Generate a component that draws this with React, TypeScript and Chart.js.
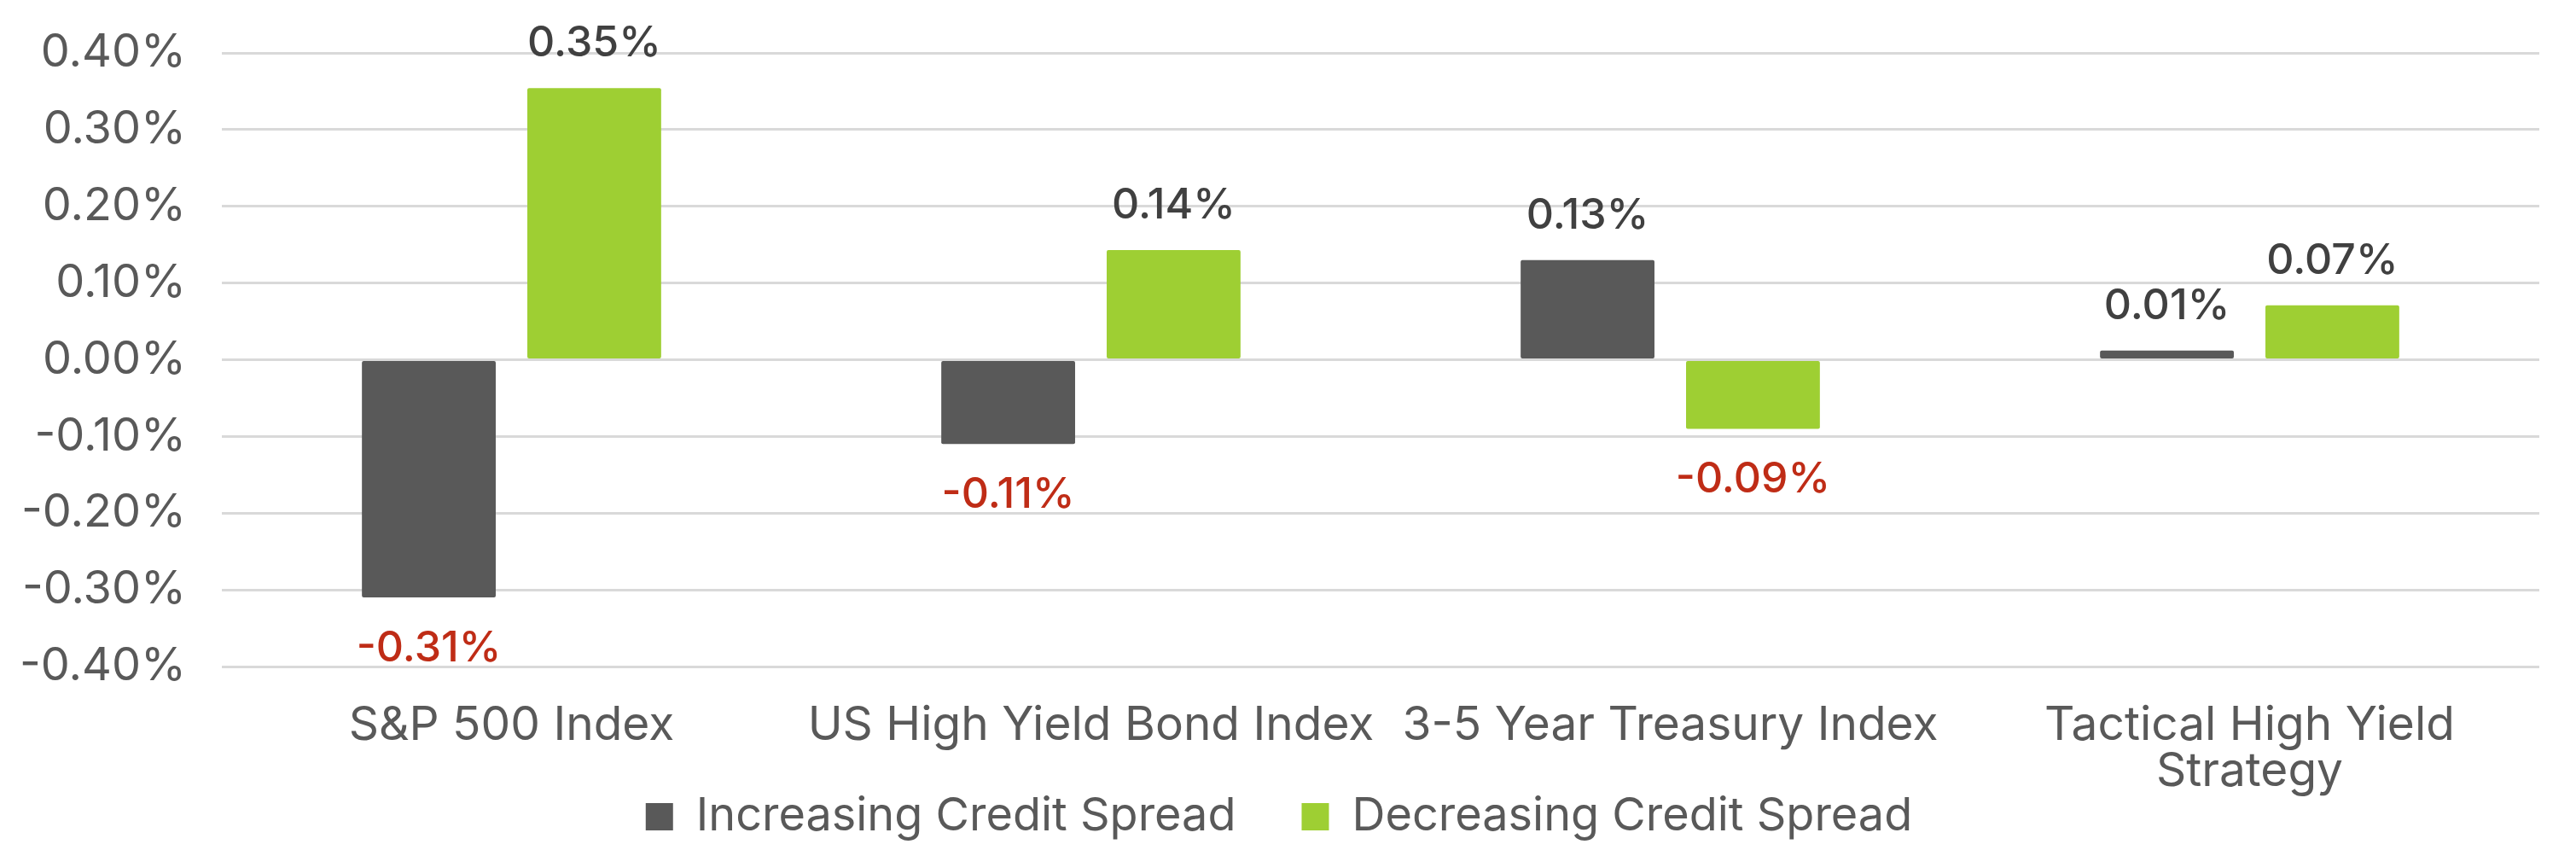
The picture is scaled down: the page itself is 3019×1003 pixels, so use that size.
import React, { useEffect, useRef } from "react";
import { Chart, registerables } from "chart.js";

Chart.register(...registerables);

const categories: (string | string[])[] = [
  "S&P 500 Index",
  "US High Yield Bond Index",
  "3-5 Year Treasury Index",
  ["Tactical High Yield", "Strategy"],
];
const seriesNames = ["Increasing Credit Spread", "Decreasing Credit Spread"];
const increasingSpread = [-0.31, -0.11, 0.13, 0.012];
const decreasingSpread = [0.354, 0.143, -0.09, 0.071];
const yTicks = [-0.4, -0.3, -0.2, -0.1, 0, 0.1, 0.2, 0.3, 0.4];

const W = 3019;
const H = 1003;
const FONT = "Inter, 'Open Sans', sans-serif";

const dataLabelPlugin = {
  id: "dataLabels",
  afterDatasetsDraw(chart: any) {
    const ctx = chart.ctx;
    ctx.save();
    ctx.font = `500 50px ${FONT}`;
    ctx.textAlign = "center";
    ctx.textBaseline = "alphabetic";
    chart.data.datasets.forEach((ds: any, di: number) => {
      const meta = chart.getDatasetMeta(di);
      meta.data.forEach((bar: any, i: number) => {
        const v = ds.data[i] as number;
        const txt = v.toFixed(2) + "%";
        if (v >= 0) {
          ctx.fillStyle = "#404040";
          ctx.fillText(txt, bar.x, bar.y - 37);
        } else {
          ctx.fillStyle = "#bf2c16";
          ctx.fillText(txt, bar.x, bar.y + 75);
        }
      });
    });
    ctx.restore();
  },
};

const noClip = (s: any) => {
  s._computeLabelArea = () => undefined;
};

export default function App() {
  const ref = useRef<HTMLCanvasElement | null>(null);
  useEffect(() => {
    if (!ref.current) return;
    const chart = new Chart(ref.current, {
      type: "bar",
      data: {
        labels: categories,
        datasets: [
          {
            label: seriesNames[0],
            data: increasingSpread,
            backgroundColor: "#595959",
            borderRadius: 2,
            borderSkipped: false,
            categoryPercentage: 0.571,
            barPercentage: 0.809,
          },
          {
            label: seriesNames[1],
            data: decreasingSpread,
            backgroundColor: "#9ecf33",
            borderRadius: 2,
            borderSkipped: false,
            categoryPercentage: 0.571,
            barPercentage: 0.809,
          },
        ],
      },
      options: {
        responsive: false,
        animation: false,
        layout: { padding: { top: 62, right: 43, left: 22, bottom: 9 } },
        plugins: {
          tooltip: { enabled: false },
          legend: {
            position: "bottom",
            labels: {
              boxWidth: 32,
              boxHeight: 32,
              padding: 77,
              color: "#595959",
              font: { family: FONT, size: 54 },
            },
          },
        },
        scales: {
          x: {
            grid: { display: false },
            border: { display: false },
            ticks: {
              color: "#595959",
              font: { family: FONT, size: 55, lineHeight: 54 / 55 },
              padding: 34,
              maxRotation: 0,
              autoSkip: false,
            },
            afterFit: (s: any) => {
              s.height = 72;
              noClip(s);
            },
          },
          y: {
            min: -0.4,
            max: 0.4,
            afterBuildTicks: (s: any) => {
              s.ticks = yTicks.map((v) => ({ value: v }));
            },
            grid: { color: "#d9d9d9", lineWidth: 3, drawTicks: false },
            border: { display: false },
            ticks: {
              color: "#595959",
              font: { family: FONT, size: 54 },
              padding: 42,
              callback: (v: any) => Number(v).toFixed(2) + "%",
            },
            afterFit: (s: any) => {
              s.width = 238;
              s.paddingTop = 0;
              s.paddingBottom = 0;
              noClip(s);
            },
          },
        },
      },
      plugins: [dataLabelPlugin],
    });
    return () => chart.destroy();
  }, []);
  return (
    <div style={{ position: "absolute", left: 0, top: 0, width: W, height: H, background: "#fff" }}>
      <canvas ref={ref} width={W} height={H} style={{ display: "block" }} />
    </div>
  );
}
